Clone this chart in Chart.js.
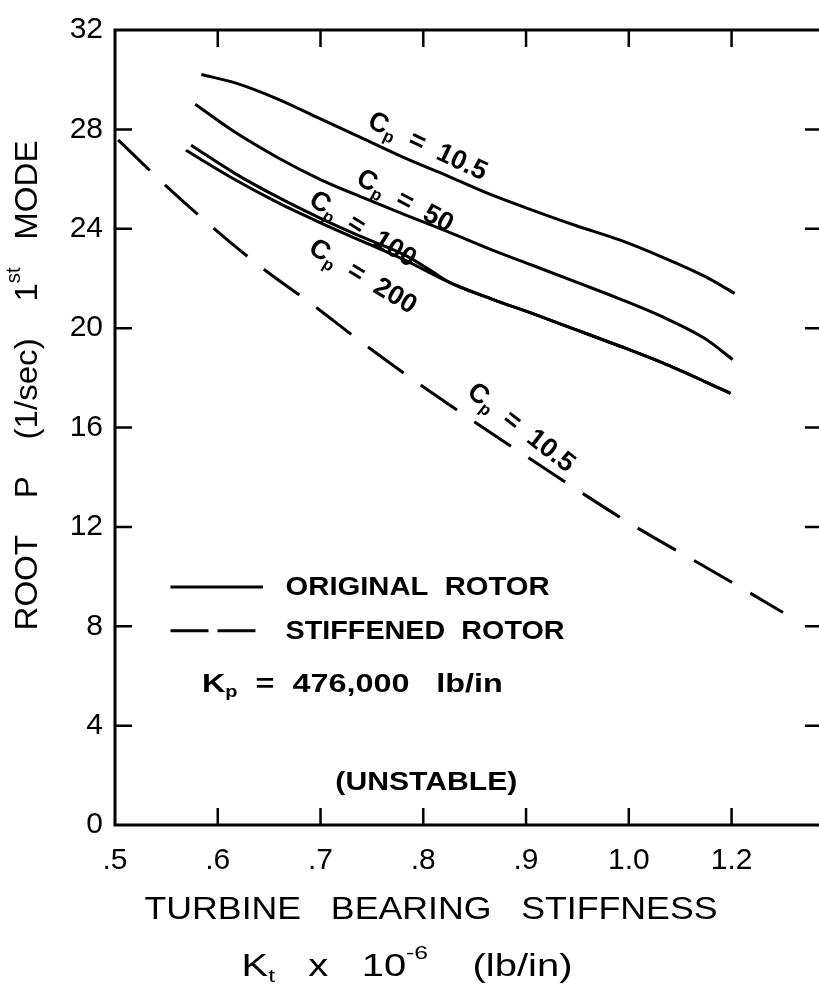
<!DOCTYPE html>
<html>
<head>
<meta charset="utf-8">
<script src="https://cdn.jsdelivr.net/npm/chart.js@4"></script>
<style>
  html, body { margin: 0; padding: 0; background: #fff; overflow: hidden; }
</style>
</head>
<body>
<canvas id="rootChart" width="826" height="989"></canvas>
<script>
// axis ticks (the printed figure labels its 7th tick "1.2")
const xTickValues = [0.5, 0.6, 0.7, 0.8, 0.9, 1.0, 1.1];
const xTickLabels = [".5", ".6", ".7", ".8", ".9", "1.0", "1.2"];
const yTickValues = [0, 4, 8, 12, 16, 20, 24, 28, 32];

// original rotor, Cp = 10.5
const cp105X = [0.584, 0.617, 0.659, 0.700, 0.742, 0.783, 0.825, 0.866, 0.908, 0.949, 0.991, 1.033, 1.074, 1.103];
const cp105Y = [30.21, 29.87, 29.21, 28.42, 27.62, 26.83, 26.10, 25.37, 24.72, 24.12, 23.55, 22.85, 22.08, 21.40];

// original rotor, Cp = 50
const cp50X = [0.578, 0.617, 0.659, 0.700, 0.742, 0.783, 0.825, 0.866, 0.908, 0.949, 0.991, 1.033, 1.074, 1.101];
const cp50Y = [29.01, 27.88, 26.85, 25.98, 25.24, 24.55, 23.86, 23.16, 22.50, 21.85, 21.18, 20.45, 19.58, 18.74];

// original rotor, Cp = 100
const cp100X = [0.574, 0.617, 0.659, 0.700, 0.742, 0.783, 0.808, 0.825, 0.866, 0.908, 0.949, 0.991, 1.033, 1.074, 1.099];
const cp100Y = [27.36, 26.22, 25.26, 24.42, 23.64, 22.92, 22.30, 21.85, 21.18, 20.56, 19.93, 19.28, 18.60, 17.85, 17.37];

// original rotor, Cp = 200
const cp200X = [0.569, 0.617, 0.659, 0.700, 0.742, 0.783, 0.825, 0.866, 0.908, 0.949, 0.991, 1.033, 1.074, 1.099];
const cp200Y = [27.16, 25.97, 25.04, 24.24, 23.47, 22.72, 21.85, 21.18, 20.56, 19.93, 19.28, 18.60, 17.85, 17.37];

// stiffened rotor, Cp = 10.5
const stiffX = [0.503, 0.547, 0.593, 0.642, 0.692, 0.741, 0.794, 0.850, 0.902, 0.952, 1.005, 1.060, 1.113, 1.150];
const stiffY = [27.58, 25.83, 24.13, 22.46, 20.95, 19.40, 17.81, 16.22, 14.79, 13.43, 12.04, 10.73, 9.46, 8.55];

// curve labels: value text, anchor in data units, angle in degrees
const curveLabels = [
  { value: "10.5", x: 0.804, y: 27.3, angle: 25 },
  { value: "50", x: 0.782, y: 25.1, angle: 28 },
  { value: "100", x: 0.741, y: 23.97, angle: 32 },
  { value: "200", x: 0.741, y: 22.06, angle: 31 },
  { value: "10.5", x: 0.895, y: 15.98, angle: 38 },
];

const legendItems = [
  { label: "ORIGINAL  ROTOR", dash: [], width: 264 },
  { label: "STIFFENED  ROTOR", dash: [38, 9], width: 279 },
];

const toPoints = (xs, ys) => xs.map((x, i) => ({ x: x, y: ys[i] }));

const lineStyle = (dash) => ({
  borderColor: "#000",
  borderWidth: 3,
  borderDash: dash,
  pointRadius: 0,
  fill: false,
  cubicInterpolationMode: "monotone",
});

const FONT = "'Liberation Sans', Arial, sans-serif";

// text with sub / superscript parts, optionally squeezed to a width
const drawRich = (ctx, parts, x, y, opt) => {
  const size = opt.size;
  const weight = opt.weight || "normal";
  ctx.save();
  ctx.translate(x, y);
  ctx.rotate(((opt.angle || 0) * Math.PI) / 180);
  let w = 0;
  const widths = parts.map(([t, kind]) => {
    const s = kind === "n" ? size : size * 0.62;
    ctx.font = `${weight} ${s}px ${FONT}`;
    const m = ctx.measureText(t).width;
    w += m;
    return m;
  });
  const sx = opt.width ? opt.width / w : 1;
  ctx.scale(sx, 1);
  ctx.fillStyle = "#000";
  ctx.textBaseline = "middle";
  ctx.textAlign = "left";
  let cx = opt.align === "left" ? 0 : -w / 2;
  parts.forEach(([t, kind], i) => {
    const s = kind === "n" ? size : size * 0.62;
    ctx.font = `${weight} ${s}px ${FONT}`;
    let dy = 0;
    if (kind === "sub") dy = size * 0.3;
    if (kind === "sup") dy = -size * 0.42;
    ctx.fillText(t, cx, dy);
    cx += widths[i];
  });
  ctx.restore();
};

const framePlugin = {
  id: "frame",
  afterDatasetsDraw(chart) {
    const ctx = chart.ctx;
    const area = chart.chartArea;
    const xs = chart.scales.x;
    const ys = chart.scales.y;
    const tickLen = 17;

    ctx.save();
    ctx.strokeStyle = "#000";
    ctx.lineWidth = 3;
    ctx.strokeRect(area.left, area.top, area.right - area.left, area.bottom - area.top);

    ctx.lineWidth = 2.5;
    ctx.beginPath();
    xTickValues.slice(1).forEach((v) => {
      const px = xs.getPixelForValue(v);
      ctx.moveTo(px, area.bottom);
      ctx.lineTo(px, area.bottom - tickLen);
      ctx.moveTo(px, area.top);
      ctx.lineTo(px, area.top + tickLen);
    });
    yTickValues.slice(1, -1).forEach((v) => {
      const py = ys.getPixelForValue(v);
      ctx.moveTo(area.left, py);
      ctx.lineTo(area.left + tickLen, py);
      ctx.moveTo(area.right, py);
      ctx.lineTo(area.right - tickLen, py);
    });
    ctx.stroke();

    // curve labels
    curveLabels.forEach((c) => {
      drawRich(
        ctx,
        [["C", "n"], ["p", "sub"], ["  =  " + c.value, "n"]],
        xs.getPixelForValue(c.x),
        ys.getPixelForValue(c.y),
        { size: 27, weight: "bold", angle: c.angle }
      );
    });

    // legend
    const lx0 = xs.getPixelForValue(0.554);
    const lx1 = xs.getPixelForValue(0.644);
    const tx = xs.getPixelForValue(0.666);
    legendItems.forEach((item, i) => {
      const py = ys.getPixelForValue(9.58 - i * 1.76);
      ctx.beginPath();
      ctx.lineWidth = 3;
      ctx.setLineDash(item.dash);
      ctx.moveTo(lx0, py);
      ctx.lineTo(lx1, py);
      ctx.stroke();
      ctx.setLineDash([]);
      drawRich(ctx, [[item.label, "n"]], tx, py + 1, {
        size: 26,
        weight: "bold",
        width: item.width,
        align: "left",
      });
    });

    drawRich(
      ctx,
      [["K", "n"], ["p", "sub"], ["  =  476,000   lb/in", "n"]],
      xs.getPixelForValue(0.731),
      ys.getPixelForValue(5.64),
      { size: 26, weight: "bold", width: 301 }
    );
    drawRich(ctx, [["(UNSTABLE)", "n"]], xs.getPixelForValue(0.803), ys.getPixelForValue(1.67), {
      size: 25,
      weight: "bold",
      width: 182,
    });

    // axis titles
    drawRich(
      ctx,
      [["ROOT    P    (1/sec)    1", "n"], ["st", "sup"], ["   MODE", "n"]],
      28,
      (area.top + area.bottom) / 2 - 42,
      { size: 32, angle: -90, width: 490 }
    );
    drawRich(ctx, [["TURBINE   BEARING   STIFFNESS", "n"]], 431, 910, { size: 32, width: 573 });
    drawRich(
      ctx,
      [["K", "n"], ["t", "sub"], ["   x   10", "n"], ["-6", "sup"], ["    (lb/in)", "n"]],
      407,
      967,
      { size: 31, width: 331 }
    );
    ctx.restore();
  },
};

const config = {
  type: "line",
  data: {
    datasets: [
      { label: "Cp = 10.5", data: toPoints(cp105X, cp105Y), ...lineStyle([]) },
      { label: "Cp = 50", data: toPoints(cp50X, cp50Y), ...lineStyle([]) },
      { label: "Cp = 100", data: toPoints(cp100X, cp100Y), ...lineStyle([]) },
      { label: "Cp = 200", data: toPoints(cp200X, cp200Y), ...lineStyle([]) },
      { label: "Stiffened Cp = 10.5", data: toPoints(stiffX, stiffY), ...lineStyle([44, 21]) },
    ],
  },
  options: {
    responsive: false,
    animation: false,
    layout: { padding: { top: 20, right: 4, left: 0, bottom: 0 } },
    plugins: { legend: { display: false }, tooltip: { enabled: false } },
    scales: {
      x: {
        type: "linear",
        min: 0.5,
        max: 1.188,
        afterFit: (scale) => { scale.height = 164; },
        afterBuildTicks: (scale) => { scale.ticks = xTickValues.map((v) => ({ value: v })); },
        grid: { display: false, drawTicks: false },
        border: { display: false },
        ticks: {
          padding: 18,
          color: "#000",
          maxRotation: 0,
          font: { family: FONT, size: 30 },
          callback: (v) => xTickLabels[xTickValues.findIndex((t) => Math.abs(t - v) < 1e-6)],
        },
      },
      y: {
        type: "linear",
        min: 0,
        max: 32,
        afterFit: (scale) => { scale.width = 115; },
        afterBuildTicks: (scale) => { scale.ticks = yTickValues.map((v) => ({ value: v })); },
        grid: { display: false, drawTicks: false },
        border: { display: false },
        ticks: {
          padding: 12,
          color: "#000",
          font: { family: FONT, size: 30 },
        },
      },
    },
  },
  plugins: [framePlugin],
};

const rootChart = new Chart(document.getElementById("rootChart"), config);
</script>
</body>
</html>
